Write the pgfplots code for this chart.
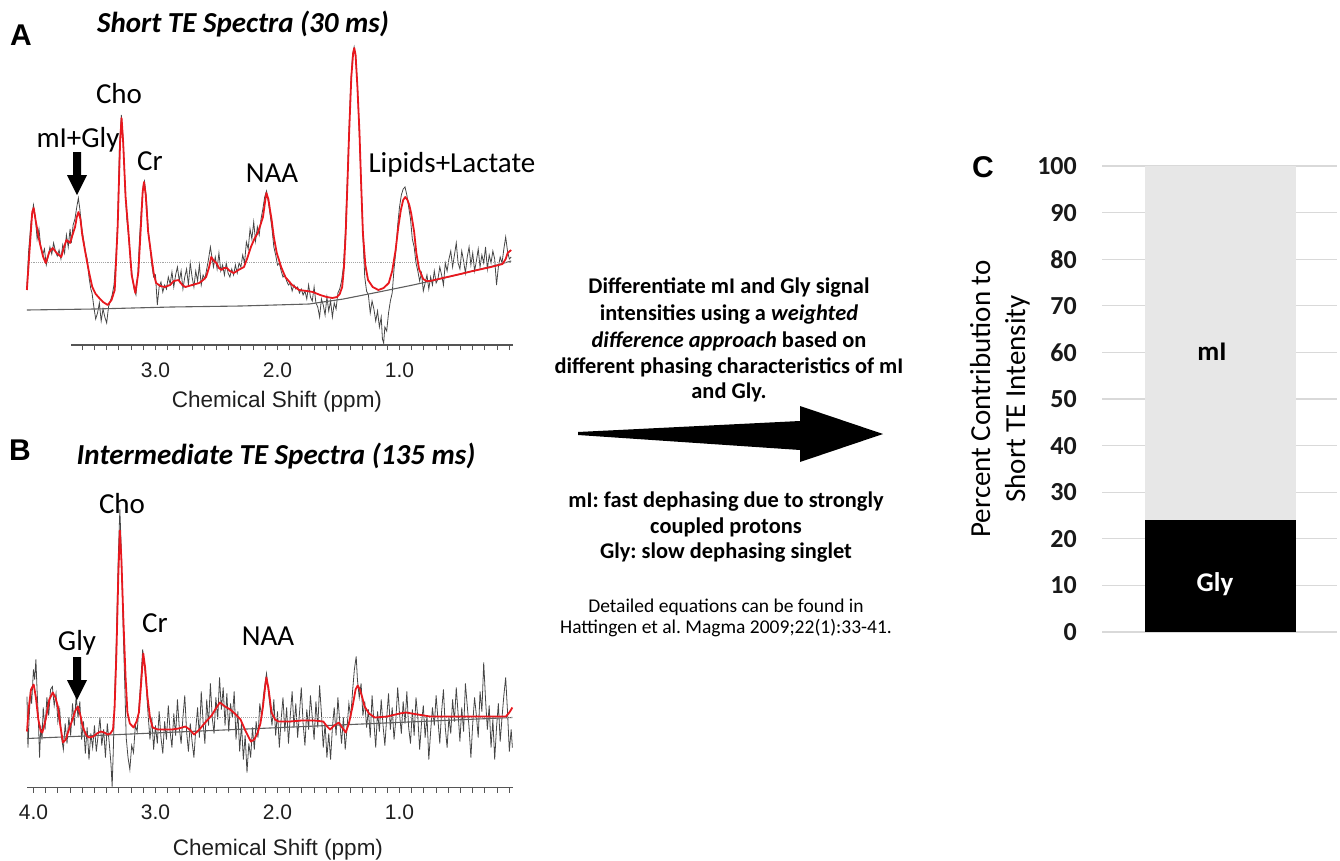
\documentclass[border=0pt]{standalone}
\usepackage{fontspec}
\setmainfont{Carlito}
\newfontfamily\arialf{Liberation Sans}
\usepackage{pgfplots}
\pgfplotsset{compat=1.18}
\frenchspacing
\definecolor{specred}{RGB}{232,24,30}
\definecolor{trace}{RGB}{70,70,70}
\definecolor{basel}{RGB}{95,95,95}
\definecolor{dotc}{RGB}{165,165,165}
\definecolor{axc}{RGB}{85,85,85}
\definecolor{gridc}{RGB}{217,217,217}
\definecolor{mibar}{RGB}{231,231,231}
\newcommand\fs[1]{\fontsize{#1bp}{#1bp}\selectfont}
\pgfplotsset{
  specdata/.style={scale only axis, width=486bp, xmin=0.070, xmax=4.053, x dir=reverse, ymin=0, clip=false},
  xppm/.style={axis x line=bottom, axis y line=none, axis line style={-}, x axis line style={-, draw=axc, line width=1.3bp},
    xtick pos=bottom, tick align=outside, major tick length=5bp, minor tick length=5bp,
    minor xtick={0.1,0.2,...,4.0}, tick style={draw=axc, line width=1bp},
    xticklabel={\pgfmathprintnumber[fixed,fixed zerofill,precision=1,assume math mode=true]{\tick}},
    xticklabel style={font=\arialf\fs{21}, text=black!88, anchor=base, yshift=-27bp}}
}
\begin{document}
\begin{tikzpicture}
\path[use as bounding box] (0,0) rectangle (1340bp,-861bp);

% ---------------- Panel A ----------------
\begin{axis}[specdata, at={(27bp,-347bp)}, height=310bp, ymax=310, hide axis]
\addplot[trace, line width=0.8bp] coordinates {
(4.054,60)(4.04,95)(4.02,125)(4.00,142)(3.985,130)(3.97,108)(3.955,118)(3.94,100)(3.925,92)(3.91,98)
(3.895,82)(3.88,90)(3.865,100)(3.85,93)(3.835,104)(3.82,96)(3.805,91)(3.79,97)(3.775,88)(3.76,102)
(3.745,94)(3.73,112)(3.715,100)(3.70,118)(3.69,104)(3.675,122)(3.66,128)(3.645,140)(3.632,149)(3.62,138)
(3.605,120)(3.59,108)(3.575,96)(3.56,88)(3.545,70)(3.53,58)(3.52,54)(3.505,40)(3.49,28)(3.475,34)
(3.46,44)(3.445,26)(3.43,38)(3.415,30)(3.40,24)(3.385,40)(3.37,46)(3.355,52)(3.34,62)(3.325,88)
(3.31,125)(3.295,200)(3.28,232)(3.265,208)(3.25,160)(3.235,128)(3.22,110)(3.205,88)(3.19,70)(3.175,58)
(3.16,52)(3.145,72)(3.13,110)(3.115,140)(3.10,162)(3.09,166)(3.075,150)(3.06,118)(3.045,100)(3.03,82)
(3.015,70)(3.00,72)(2.985,42)(2.97,60)(2.955,65)(2.94,55)(2.925,62)(2.91,58)(2.895,70)(2.88,63)
(2.865,75)(2.85,60)(2.835,72)(2.82,80)(2.805,66)(2.79,76)(2.775,58)(2.76,70)(2.745,78)(2.73,62)
(2.715,84)(2.70,70)(2.685,60)(2.67,76)(2.655,66)(2.64,82)(2.625,62)(2.61,72)(2.595,68)(2.58,78)
(2.565,88)(2.55,100)(2.54,92)(2.525,80)(2.51,90)(2.495,78)(2.48,94)(2.465,76)(2.45,82)(2.435,72)
(2.42,84)(2.405,74)(2.39,70)(2.375,78)(2.36,72)(2.345,82)(2.33,74)(2.315,84)(2.30,80)(2.285,92)
(2.27,84)(2.255,105)(2.24,98)(2.225,118)(2.21,108)(2.195,125)(2.18,106)(2.165,120)(2.15,112)(2.135,128)
(2.12,138)(2.105,150)(2.09,156)(2.075,145)(2.06,132)(2.045,118)(2.03,100)(2.015,92)(2.00,82)(1.985,84)
(1.97,76)(1.955,70)(1.94,72)(1.925,66)(1.91,62)(1.895,64)(1.88,56)(1.865,62)(1.85,58)(1.835,60)
(1.82,54)(1.805,58)(1.79,52)(1.775,56)(1.76,48)(1.745,62)(1.73,50)(1.715,46)(1.70,60)(1.685,44)
(1.67,40)(1.655,30)(1.64,48)(1.625,42)(1.61,32)(1.595,50)(1.58,36)(1.565,46)(1.55,30)(1.535,44)
(1.52,38)(1.505,54)(1.49,58)(1.475,66)(1.46,80)(1.445,112)(1.43,160)(1.415,214)(1.40,262)(1.385,292)
(1.372,300)(1.36,290)(1.345,262)(1.33,214)(1.315,165)(1.30,110)(1.285,70)(1.27,56)(1.255,52)(1.24,34)
(1.225,46)(1.21,38)(1.195,26)(1.18,36)(1.165,20)(1.15,30)(1.14,8)(1.13,4)(1.12,20)(1.105,16)
(1.09,34)(1.075,46)(1.06,54)(1.045,78)(1.03,96)(1.015,122)(1.00,140)(0.985,152)(0.97,158)(0.955,160)
(0.94,152)(0.925,140)(0.91,128)(0.895,108)(0.88,100)(0.865,84)(0.85,76)(0.835,66)(0.82,74)(0.805,56)
(0.79,64)(0.775,72)(0.76,58)(0.745,70)(0.73,62)(0.715,76)(0.70,64)(0.685,68)(0.67,80)(0.655,72)
(0.64,62)(0.625,84)(0.61,76)(0.595,88)(0.58,96)(0.565,80)(0.55,92)(0.535,104)(0.52,84)(0.505,78)
(0.49,96)(0.475,86)(0.46,74)(0.445,90)(0.43,100)(0.415,82)(0.40,94)(0.385,76)(0.37,86)(0.355,98)
(0.34,80)(0.325,92)(0.31,84)(0.295,100)(0.28,78)(0.265,92)(0.25,84)(0.235,96)(0.22,88)(0.205,62)
(0.19,80)(0.175,90)(0.16,84)(0.145,98)(0.13,110)(0.115,96)(0.10,88)(0.085,90)};
\addplot[basel, line width=1.1bp] coordinates {
(4.054,37)(3.5,38)(2.87,40)(2.3,41)(1.74,43)(1.46,48)(1.17,55)(0.89,62)(0.78,65)(0.60,70)(0.40,76)(0.20,82)(0.085,86)};
\addplot[dotc, densely dotted, line width=0.9bp] coordinates {(4.054,85)(0.085,85)};
\addplot[specred, line width=1.8bp, line join=round] coordinates {
(4.054,57)(4.03,100)(4.01,135)(3.998,139)(3.98,125)(3.95,105)(3.92,90)(3.899,84)(3.87,95)(3.842,99)
(3.81,94)(3.772,90)(3.75,100)(3.729,107)(3.70,104)(3.68,112)(3.659,120)(3.645,130)(3.631,135)(3.615,128)
(3.60,112)(3.574,94)(3.545,75)(3.518,60)(3.49,53)(3.461,49)(3.43,45)(3.391,42)(3.36,47)(3.334,57)
(3.31,120)(3.29,205)(3.278,229)(3.265,205)(3.245,150)(3.221,114)(3.195,72)(3.165,54)(3.14,75)(3.12,120)
(3.105,155)(3.094,165)(3.08,152)(3.06,115)(3.037,94)(3.015,74)(2.995,64)(2.96,61)(2.924,60)(2.88,62)
(2.85,66)(2.811,67)(2.78,62)(2.755,60)(2.70,62)(2.642,64)(2.61,67)(2.585,70)(2.56,80)(2.543,90)
(2.52,86)(2.501,84)(2.48,79)(2.458,77)(2.44,79)(2.416,79)(2.39,76)(2.359,74)(2.32,77)(2.275,80)
(2.25,88)(2.218,100)(2.19,108)(2.162,114)(2.14,122)(2.119,130)(2.10,147)(2.091,154)(2.075,148)(2.06,136)
(2.049,128)(2.03,110)(2.006,94)(1.97,80)(1.936,70)(1.88,62)(1.823,57)(1.76,56)(1.710,55)(1.65,52)
(1.597,50)(1.55,49)(1.512,50)(1.49,53)(1.470,60)(1.455,80)(1.441,114)(1.425,170)(1.413,214)(1.395,270)
(1.38,294)(1.371,299)(1.36,292)(1.345,260)(1.328,214)(1.315,165)(1.300,114)(1.28,82)(1.258,67)(1.22,60)
(1.173,57)(1.13,59)(1.088,64)(1.06,76)(1.032,97)(1.01,120)(0.989,137)(0.97,147)(0.953,150)(0.935,147)
(0.92,142)(0.905,134)(0.88,115)(0.862,94)(0.84,78)(0.806,68)(0.78,66)(0.749,66)(0.68,68)(0.608,70)
(0.50,73)(0.40,76)(0.325,78)(0.25,80)(0.156,83)(0.13,88)(0.114,94)(0.085,97)};
\end{axis}
% Panel A x axis
\begin{axis}[scale only axis, at={(71bp,-345bp)}, width=442bp, height=20bp, xmin=0.070, xmax=3.693, ymin=0, ymax=1,
  x dir=reverse, xppm, xtick={1,2,3}]
\end{axis}

% ---------------- Panel B ----------------
\begin{axis}[specdata, at={(27bp,-787.5bp)}, height=300bp, ymax=300, xppm, xtick={1,2,3,4}]
\addplot[trace, line width=0.8bp] coordinates {
(4.053,91)(4.045,40)(4.035,70)(4.025,96)(4.015,84)(4.00,118)(3.99,108)(3.98,128)(3.97,96)(3.96,70)
(3.95,30)(3.94,62)(3.93,48)(3.92,80)(3.905,58)(3.89,90)(3.875,72)(3.86,98)(3.845,101)(3.83,82)
(3.815,94)(3.80,66)(3.785,78)(3.77,50)(3.755,38)(3.74,64)(3.725,44)(3.71,70)(3.695,52)(3.68,84)
(3.665,62)(3.65,92)(3.635,70)(3.62,86)(3.605,48)(3.59,66)(3.575,34)(3.56,60)(3.545,28)(3.53,54)
(3.515,40)(3.50,62)(3.485,36)(3.47,52)(3.455,70)(3.44,42)(3.425,58)(3.41,30)(3.395,64)(3.38,46)
(3.365,24)(3.355,1)(3.345,40)(3.335,90)(3.32,150)(3.305,230)(3.292,278)(3.28,238)(3.265,160)(3.25,96)
(3.24,50)(3.225,30)(3.21,18)(3.195,42)(3.18,35)(3.165,62)(3.15,56)(3.135,82)(3.12,108)(3.105,138)
(3.09,122)(3.075,100)(3.06,72)(3.045,48)(3.03,70)(3.015,38)(3.00,62)(2.985,44)(2.97,76)(2.955,50)
(2.94,34)(2.925,66)(2.91,48)(2.895,82)(2.88,56)(2.865,40)(2.85,74)(2.835,52)(2.82,88)(2.805,60)
(2.79,44)(2.775,70)(2.76,92)(2.745,56)(2.73,36)(2.715,64)(2.70,46)(2.685,30)(2.67,58)(2.655,80)
(2.64,50)(2.625,96)(2.61,66)(2.595,44)(2.58,88)(2.565,62)(2.55,104)(2.535,70)(2.52,54)(2.505,90)
(2.49,68)(2.475,110)(2.46,78)(2.445,100)(2.43,62)(2.415,94)(2.40,56)(2.385,84)(2.37,70)(2.355,96)
(2.34,48)(2.325,76)(2.31,36)(2.295,64)(2.28,28)(2.265,52)(2.25,15)(2.235,44)(2.22,30)(2.205,60)
(2.19,38)(2.175,66)(2.16,50)(2.145,84)(2.13,70)(2.115,92)(2.10,106)(2.09,114)(2.075,96)(2.06,80)
(2.045,62)(2.03,88)(2.015,52)(2.00,76)(1.985,40)(1.97,68)(1.955,90)(1.94,56)(1.925,80)(1.91,44)
(1.895,72)(1.88,96)(1.865,60)(1.85,84)(1.835,50)(1.82,74)(1.805,100)(1.79,64)(1.775,42)(1.76,78)
(1.745,58)(1.73,92)(1.715,70)(1.70,48)(1.685,86)(1.67,60)(1.655,102)(1.64,74)(1.625,40)(1.61,64)
(1.595,30)(1.58,54)(1.565,28)(1.55,60)(1.535,80)(1.52,52)(1.505,90)(1.49,66)(1.475,44)(1.46,70)
(1.445,38)(1.43,60)(1.415,84)(1.40,70)(1.385,96)(1.37,118)(1.355,131)(1.345,108)(1.33,90)(1.315,104)
(1.30,72)(1.285,86)(1.27,60)(1.255,78)(1.24,50)(1.225,92)(1.21,66)(1.195,40)(1.18,76)(1.165,56)
(1.15,88)(1.135,62)(1.12,42)(1.105,70)(1.09,94)(1.075,58)(1.06,80)(1.045,48)(1.03,68)(1.015,100)
(1.00,74)(0.985,54)(0.97,86)(0.955,64)(0.94,96)(0.925,60)(0.91,44)(0.895,78)(0.88,52)(0.865,90)
(0.85,70)(0.835,38)(0.82,64)(0.805,82)(0.79,50)(0.775,72)(0.76,28)(0.745,56)(0.73,80)(0.715,62)
(0.70,92)(0.685,68)(0.67,44)(0.655,76)(0.64,98)(0.625,60)(0.61,40)(0.595,70)(0.58,54)(0.565,88)
(0.55,66)(0.535,100)(0.52,74)(0.505,46)(0.49,80)(0.475,56)(0.46,104)(0.445,82)(0.43,60)(0.415,30)
(0.40,64)(0.385,90)(0.37,72)(0.355,50)(0.34,96)(0.325,76)(0.31,125)(0.295,88)(0.28,58)(0.265,82)
(0.25,40)(0.235,68)(0.22,28)(0.205,60)(0.19,84)(0.175,46)(0.16,70)(0.145,92)(0.13,110)(0.115,76)
(0.10,36)(0.085,58)(0.075,40)};
\addplot[basel, line width=1.1bp] coordinates {(4.053,49)(0.075,70)};
\addplot[dotc, densely dotted, line width=0.9bp] coordinates {(4.053,70)(0.075,70)};
\addplot[specred, line width=1.8bp, line join=round] coordinates {
(4.053,56)(4.04,78)(4.02,98)(3.998,103)(3.98,90)(3.96,68)(3.94,56)(3.927,55)(3.90,68)(3.87,88)
(3.842,95)(3.82,90)(3.80,81)(3.78,62)(3.758,45)(3.735,48)(3.715,56)(3.701,61)(3.68,68)(3.66,76)
(3.636,81)(3.615,72)(3.60,63)(3.588,58)(3.565,52)(3.546,50)(3.51,51)(3.48,54)(3.447,56)(3.42,55)
(3.391,53)(3.37,54)(3.348,58)(3.335,80)(3.32,135)(3.305,210)(3.292,257)(3.28,230)(3.263,168)(3.245,110)
(3.23,75)(3.21,64)(3.179,60)(3.155,66)(3.136,75)(3.12,100)(3.10,134)(3.085,120)(3.066,91)(3.045,70)
(3.023,60)(2.98,58)(2.93,58)(2.868,58)(2.81,59)(2.755,61)(2.72,58)(2.684,53)(2.64,58)(2.585,66)
(2.54,72)(2.50,80)(2.472,85)(2.43,81)(2.388,78)(2.35,74)(2.303,68)(2.26,56)(2.218,46)(2.19,48)
(2.162,55)(2.14,64)(2.119,81)(2.10,102)(2.091,110)(2.075,100)(2.062,88)(2.049,75)(2.02,68)(1.992,66)
(1.90,66)(1.80,67)(1.70,67)(1.625,66)(1.60,62)(1.569,58)(1.535,62)(1.498,65)(1.47,60)(1.441,55)
(1.415,64)(1.385,81)(1.36,98)(1.343,102)(1.325,98)(1.305,90)(1.286,81)(1.25,74)(1.201,70)(1.10,71)
(1.00,74)(0.947,75)(0.85,73)(0.749,71)(0.50,71)(0.30,71)(0.128,71)(0.10,75)(0.075,80)};
\end{axis}

% ---------------- Panel C ----------------
\begin{axis}[at={(1102bp,-632bp)}, scale only axis, width=235bp, height=466bp,
  xmin=0, xmax=1, ymin=0, ymax=100, ybar stacked, bar width=151bp,
  ytick={0,10,...,100}, xtick=\empty, ymajorgrids, grid style={gridc, line width=1.3bp},
  axis line style={draw=none}, tick style={draw=none},
  yticklabel={\pgfmathprintnumber[assume math mode=true]{\tick}},
  yticklabel style={font=\bfseries\fs{26}, text=black!90, anchor=east, inner sep=0pt, xshift=-25bp}]
\addplot[fill=black, draw=none] coordinates {(0.504,24)};
\addplot[fill=mibar, draw=none] coordinates {(0.504,76)};
\end{axis}

% ---------------- annotations ----------------
\begin{scope}[x=1bp, y=-1bp]
% panel letters
\node[anchor=base, font=\arialf\bfseries\fs{30}] at (21,45) {A};
\node[anchor=base, font=\arialf\bfseries\fs{30}] at (20,460) {B};
\node[anchor=base, font=\arialf\bfseries\fs{30}] at (983,177) {C};
% titles
\node[anchor=base, font=\bfseries\itshape\fs{29}] at (243,32) {Short TE Spectra (30 ms)};
\node[anchor=base, font=\bfseries\itshape\fs{29}] at (276,464) {Intermediate TE Spectra (135 ms)};
% x labels
\node[anchor=base, font=\arialf\fs{22.5}, text=black!88] at (277,407) {Chemical Shift (ppm)};
\node[anchor=base, font=\arialf\fs{22.5}, text=black!88] at (278,855) {Chemical Shift (ppm)};
% peak labels A
\node[anchor=base, font=\fs{29}] at (78,147) {mI+Gly};
\node[anchor=base, font=\fs{29}] at (119,103) {Cho};
\node[anchor=base, font=\fs{29}] at (150,170) {Cr};
\node[anchor=base, font=\fs{29}] at (272,182) {NAA};
\node[anchor=base, font=\fs{29}] at (452,172) {Lipids+Lactate};
% peak labels B
\node[anchor=base, font=\fs{29}] at (122,513) {Cho};
\node[anchor=base, font=\fs{29}] at (155,632) {Cr};
\node[anchor=base, font=\fs{29}] at (77,650) {Gly};
\node[anchor=base, font=\fs{29}] at (268,645) {NAA};
% down arrows
\fill (73,152) -- (81,152) -- (81,175) -- (87,175) -- (77,195) -- (67,175) -- (73,175) -- cycle;
\fill (73,657) -- (81,657) -- (81,680) -- (87,680) -- (77,700) -- (67,680) -- (73,680) -- cycle;
% middle text
\node[anchor=base, font=\bfseries\fs{22.4}] at (729,293) {Differentiate mI and Gly signal};
\node[anchor=base, font=\bfseries\fs{22.4}] at (729,320) {intensities using a \textit{weighted}};
\node[anchor=base, font=\bfseries\fs{22.4}] at (729,347) {\textit{difference approach} based on};
\node[anchor=base, font=\bfseries\fs{22.4}] at (729,373) {different phasing characteristics of mI};
\node[anchor=base, font=\bfseries\fs{22.4}] at (729,398) {and Gly.};
\fill (578,432) -- (800,421) -- (800,406) -- (883,434) -- (800,462) -- (800,450) -- (578,435) -- cycle;
\node[anchor=base, font=\bfseries\fs{22.4}] at (726,507) {mI: fast dephasing due to strongly};
\node[anchor=base, font=\bfseries\fs{22.4}] at (726,533) {coupled protons};
\node[anchor=base, font=\bfseries\fs{22.4}] at (726,558) {Gly: slow dephasing singlet};
\node[anchor=base, font=\fs{19.5}] at (726,612) {Detailed equations can be found in};
\node[anchor=base, font=\fs{19.5}] at (726,633) {Hattingen et al. Magma 2009;22(1):33-41.};
% panel C texts
\node[rotate=90, align=center, font=\fontsize{29bp}{35bp}\selectfont] at (1000,399) {Percent Contribution to\\Short TE Intensity};
\node[anchor=base, font=\bfseries\fs{27}] at (1212,360) {mI};
\node[anchor=base, font=\bfseries\fs{27}, text=white] at (1215,591) {Gly};
\end{scope}
\end{tikzpicture}
\end{document}
